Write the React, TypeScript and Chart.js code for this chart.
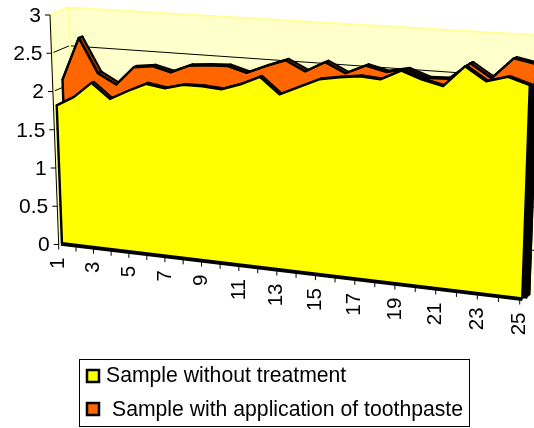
import React, { useEffect, useRef } from "react";
import { Chart, LineController, LineElement, PointElement, CategoryScale, LinearScale } from "chart.js";

const samples = ["1","2","3","4","5","6","7","8","9","10","11","12","13","14","15","16","17","18","19","20","21","22","23","24","25"];
const withoutTreatment = [1.8,1.93,2.13,1.94,2.06,2.17,2.13,2.19,2.19,2.17,2.25,2.36,2.16,2.27,2.38,2.42,2.45,2.43,2.55,2.46,2.4,2.65,2.49,2.56,2.48];
const withToothpaste = [2.1,2.66,2.22,2.09,2.33,2.36,2.3,2.4,2.42,2.43,2.36,2.46,2.55,2.43,2.56,2.44,2.55,2.49,2.54,2.45,2.46,2.66,2.5,2.75,2.7];
const valueTicks = [0, 0.5, 1, 1.5, 2, 2.5, 3];

const FAMILY = '"Liberation Sans", Arial, sans-serif';
const WALL = "#FFFFCC";
const WALL_EDGE = "#FFFF99";

// Perspective of the 3D box: category position t (0..1), value v, depth z (0 front, 1 back).
function project(t: number, v: number, z: number) {
  const w = 0.898;
  const s = (t * w) / (1 + t * (w - 1));
  const lean = -2.9 + 5.95 * s;
  const h = 76.5 + 9.5 * s;
  return {
    x: 58.7 + 461 * s + lean * v + z * (18 - 4 * s),
    y: 244.5 + 55 * s - h * v + z * (-7.5 + 1.5 * s),
  };
}

function normalised(chart: any, px: number, py: number) {
  const a = chart.chartArea;
  return { t: (px - a.left) / (a.right - a.left), v: chart.scales.y.getValueForPixel(py) };
}

function polygon(ctx: CanvasRenderingContext2D, pts: { x: number; y: number }[]) {
  ctx.beginPath();
  pts.forEach((p, i) => (i ? ctx.lineTo(p.x, p.y) : ctx.moveTo(p.x, p.y)));
  ctx.closePath();
}

// Extruded area: right-hand cap, top strip, then the front face.
class Area3DController extends LineController {
  static id = "area3d";
  static defaults = { ...LineController.defaults };
  draw() {
    const chart: any = this.chart;
    const ctx: CanvasRenderingContext2D = chart.ctx;
    const ds: any = this.getDataset();
    const meta: any = this.getMeta();
    const pts = meta.data.map((p: any) => normalised(chart, p.x, p.y));
    const line = (z: number) => pts.map((p: any) => project(p.t, p.v, z));
    const front = line(ds.depthFront);
    const back = line(ds.depthBack);
    const last = pts[pts.length - 1];
    ctx.save();
    ctx.lineJoin = "round";
    ctx.strokeStyle = "#000";

    polygon(ctx, [
      project(1, Math.min(last.v, ds.capTop), ds.depthFront),
      project(1, Math.min(last.v, ds.capTop), ds.capBack),
      project(1, 0, ds.capBack),
      project(1, 0, ds.depthFront),
    ]);
    ctx.fillStyle = "#000";
    ctx.fill();

    ctx.lineWidth = 2;
    ctx.fillStyle = ds.shade;
    for (let i = 0; i < front.length - 1; i++) {
      polygon(ctx, [front[i], front[i + 1], back[i + 1], back[i]]);
      ctx.fill();
      ctx.stroke();
    }

    const footLeft = project(pts[0].t, 0, ds.depthFront);
    const footRight = project(1, 0, ds.depthFront);
    polygon(ctx, [footLeft, ...front, footRight]);
    ctx.fillStyle = ds.backgroundColor;
    ctx.fill();
    ctx.lineWidth = 2.4;
    ctx.stroke();

    // The underside of the box shows as a heavier edge along the floor.
    ctx.lineWidth = 3;
    ctx.beginPath();
    ctx.moveTo(footLeft.x - 1, footLeft.y + 1);
    ctx.lineTo(footRight.x, footRight.y + 1);
    ctx.stroke();
    ctx.restore();
  }
}

const wallsPlugin = {
  id: "walls",
  beforeDatasetsDraw(chart: any) {
    const ctx: CanvasRenderingContext2D = chart.ctx;
    const yScale = chart.scales.y;
    ctx.save();
    ctx.fillStyle = WALL;
    polygon(ctx, [project(0, 0, 1), project(1, 0, 1), project(1, 3, 1), project(0, 3, 1)]);
    ctx.fill();
    polygon(ctx, [project(0, 0, 0), project(0, 0, 1), project(0, 3, 1), project(0, 3, 0)]);
    ctx.fill();

    ctx.strokeStyle = "#000";
    ctx.lineWidth = 1;
    yScale.ticks.forEach((tick: any) => {
      if (tick.value === 0 || tick.value === 3) return;
      const a = project(0, tick.value, 0);
      const b = project(0, tick.value, 1);
      const c = project(1, tick.value, 1);
      ctx.beginPath();
      ctx.moveTo(a.x, a.y);
      ctx.lineTo(b.x, b.y);
      ctx.lineTo(c.x, c.y);
      ctx.stroke();
    });

    ctx.strokeStyle = WALL_EDGE;
    ctx.lineWidth = 2;
    ctx.beginPath();
    const top0 = project(0, 3, 0);
    const top1 = project(0, 3, 1);
    const top2 = project(1, 3, 1);
    const foot = project(0, 0, 1);
    const foot0 = project(0, 0, 0);
    ctx.moveTo(top0.x, top0.y);
    ctx.lineTo(top1.x, top1.y);
    ctx.lineTo(top2.x, top2.y);
    ctx.moveTo(top1.x + 0.5, top1.y);
    ctx.lineTo(foot.x + 0.5, foot.y);
    ctx.moveTo(top0.x + 1, top0.y);
    ctx.lineTo(foot0.x + 1, foot0.y);
    ctx.stroke();
    ctx.restore();
  },
};

const axesPlugin = {
  id: "axes3d",
  afterDatasetsDraw(chart: any) {
    const ctx: CanvasRenderingContext2D = chart.ctx;
    const xScale = chart.scales.x;
    const yScale = chart.scales.y;
    ctx.save();
    ctx.strokeStyle = "#000";
    ctx.fillStyle = "#000";
    ctx.lineWidth = 1;

    const a = project(0, 3, 0);
    const b = project(0, 0, 0);
    ctx.beginPath();
    ctx.moveTo(a.x, a.y);
    ctx.lineTo(b.x, b.y);
    ctx.stroke();

    ctx.font = `21px ${FAMILY}`;
    ctx.textAlign = "right";
    ctx.textBaseline = "middle";
    yScale.ticks.forEach((tick: any) => {
      const p = project(0, tick.value, 0);
      ctx.beginPath();
      ctx.moveTo(p.x - 5, p.y);
      ctx.lineTo(p.x, p.y);
      ctx.stroke();
      ctx.fillText(tick.label, p.x - 9, p.y + 1);
    });

    ctx.font = `20.5px ${FAMILY}`;
    const area = chart.chartArea;
    xScale.ticks.forEach((tick: any, i: number) => {
      const t = (xScale.getPixelForTick(i) - area.left) / (area.right - area.left);
      const p = project(t, 0, 0);
      ctx.beginPath();
      ctx.moveTo(p.x, p.y);
      ctx.lineTo(p.x, p.y + 5);
      ctx.stroke();
      if (tick.label) {
        ctx.save();
        ctx.translate(p.x, p.y + 13);
        ctx.rotate(-Math.PI / 2);
        ctx.fillText(tick.label, 0, 0);
        ctx.restore();
      }
    });
    ctx.restore();
  },
};

const legendPlugin = {
  id: "boxedLegend",
  afterDraw(chart: any) {
    const ctx: CanvasRenderingContext2D = chart.ctx;
    const rows = [
      { swatchY: 370, textX: 106, textY: 376 },
      { swatchY: 403, textX: 112, textY: 410 },
    ];
    ctx.save();
    ctx.strokeStyle = "#000";
    ctx.lineWidth = 1;
    ctx.strokeRect(79.5, 359.5, 390, 67);
    ctx.font = `21.2px ${FAMILY}`;
    ctx.textAlign = "left";
    ctx.textBaseline = "middle";
    chart.data.datasets.forEach((ds: any, i: number) => {
      const r = rows[i];
      ctx.fillStyle = ds.backgroundColor;
      ctx.lineWidth = 2.5;
      ctx.fillRect(87, r.swatchY, 12, 12);
      ctx.strokeRect(87, r.swatchY, 12, 12);
      ctx.fillStyle = "#000";
      ctx.fillText(ds.label, r.textX, r.textY);
    });
    ctx.restore();
  },
};

Chart.register(Area3DController, LineElement, PointElement, CategoryScale, LinearScale);

export default function App() {
  const ref = useRef<HTMLCanvasElement>(null);
  useEffect(() => {
    const chart = new Chart(ref.current as HTMLCanvasElement, {
      type: "area3d" as any,
      data: {
        labels: samples,
        datasets: [
          {
            label: "Sample without treatment",
            data: withoutTreatment,
            backgroundColor: "#FFFF00",
            shade: "#808000",
            depthFront: 0.18,
            depthBack: 0.32,
            capBack: 0.76,
            capTop: 2.48,
          },
          {
            label: "Sample with application of toothpaste",
            data: withToothpaste,
            backgroundColor: "#FF6600",
            shade: "#803300",
            depthFront: 0.55,
            depthBack: 0.76,
            capBack: 0.76,
            capTop: 2.45,
          },
        ] as any,
      },
      options: {
        animation: false,
        responsive: false,
        devicePixelRatio: 1,
        layout: { padding: 0 },
        plugins: { legend: { display: false }, tooltip: { enabled: false } },
        scales: {
          x: {
            type: "category",
            display: false,
            offset: false,
            ticks: {
              autoSkip: false,
              callback: (_v: any, i: number) => (i % 2 === 0 ? samples[i] : ""),
            },
          },
          y: {
            type: "linear",
            display: false,
            min: valueTicks[0],
            max: valueTicks[valueTicks.length - 1],
            ticks: {
              stepSize: valueTicks[1] - valueTicks[0],
              callback: (v: any) => String(v),
            },
          },
        },
      } as any,
      plugins: [wallsPlugin, axesPlugin, legendPlugin],
    });
    return () => chart.destroy();
  }, []);
  return (
    <canvas
      ref={ref}
      width={534}
      height={428}
      style={{ position: "fixed", left: 0, top: 0, display: "block" }}
    />
  );
}
